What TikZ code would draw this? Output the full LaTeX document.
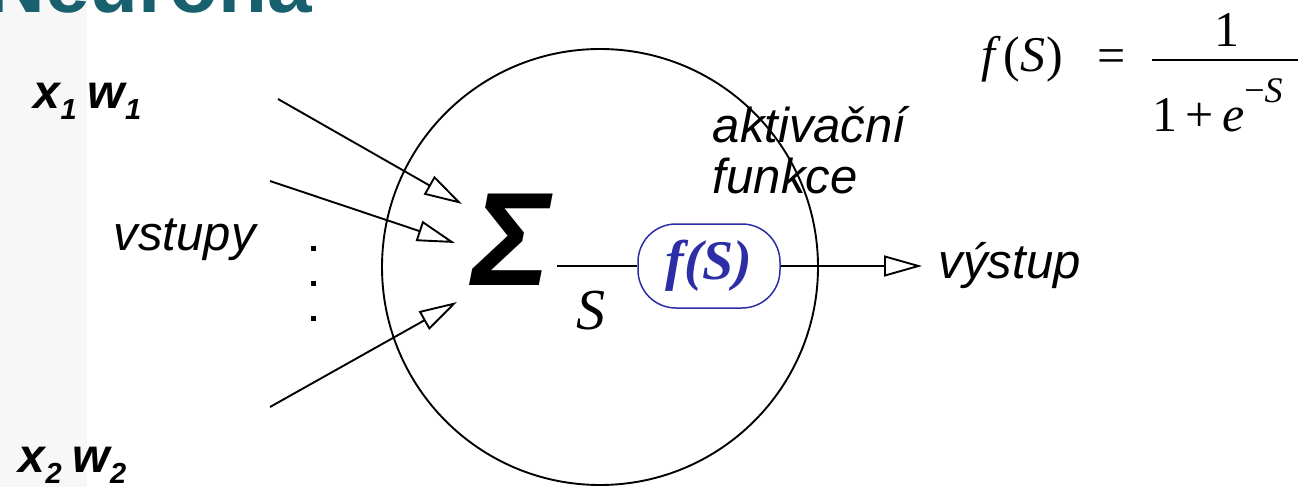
\documentclass[tikz,border=0pt]{standalone}
\usepackage{fontspec}
\usetikzlibrary{arrows.meta}
\newfontfamily\arial{Liberation Sans}
\newfontfamily\tms{Liberation Serif}
\definecolor{teal1}{RGB}{24,96,110}
\definecolor{fblue}{RGB}{45,45,165}
\begin{document}
\begin{tikzpicture}[x=1pt,y=-1pt, line width=1.9pt,
  lbl/.style={font=\arial\itshape\fontsize{49}{49}\selectfont, inner sep=0, anchor=base west},
  inlbl/.style={font=\arial\bfseries\itshape\fontsize{48}{48}\selectfont, inner sep=0, anchor=base west},
  fml/.style={font=\tms\fontsize{50}{50}\selectfont, inner sep=0},
  conn/.style={-{Triangle[open,length=38pt,width=21pt]}, line width=1.9pt},
  dotm/.style={fill, minimum size=5pt, inner sep=0}
]
\clip (0,0) rectangle (1301,487);
\fill[black!3] (0,0) rectangle (87,487);
\node[font=\arial\bfseries\fontsize{80}{80}\selectfont, text=teal1, anchor=base east, inner sep=0] (title) at (313,13) {Neurona};

% neuron body
\node[circle, draw, minimum size=436pt, inner sep=0] (neuron) at (600,267) {};
\node[font=\arial\bfseries\itshape\fontsize{133}{133}\selectfont, inner sep=0] (sigma) at (512,240) {Σ};
\node[draw=fblue, rounded corners=38pt, minimum width=142pt, minimum height=84pt, inner sep=0, line width=1.5pt, text=fblue, font=\tms\bfseries\itshape\fontsize{56}{56}\selectfont] (fs) at (709,266) {f(S)};
\node[font=\tms\itshape\fontsize{58}{58}\selectfont, inner sep=0, anchor=base] (S) at (591,329) {S};
\coordinate (sigout) at (557,266);
\draw (sigout) -- (fs.west);
\coordinate (outtip) at (922,266);
\draw[conn] (fs.east) -- (outtip);
\node[lbl] (vystup) at (938,278) {výstup};

% inputs
\coordinate (in1) at (278,99);  \coordinate (t1) at (462,204);
\coordinate (in2) at (270,181); \coordinate (t2) at (455,243);
\coordinate (in3) at (270,407); \coordinate (t3) at (457,302);
\draw[conn] (in1) -- (t1);
\draw[conn] (in2) -- (t2);
\draw[conn] (in3) -- (t3);
\node[lbl] (vstupy) at (113,250) {vstupy};
\node[dotm] (d1) at (313,248) {};
\node[dotm] (d2) at (313,283) {};
\node[dotm] (d3) at (313,318) {};

\node[inlbl] (x1w1) at (33,108) {x\raisebox{-11pt}{\fontsize{29}{29}\selectfont 1}\hspace{11pt}w\raisebox{-11pt}{\fontsize{29}{29}\selectfont 1}};
\node[inlbl] (x2w2) at (18,472) {x\raisebox{-11pt}{\fontsize{29}{29}\selectfont 2}\hspace{11pt}w\raisebox{-11pt}{\fontsize{29}{29}\selectfont 2}};

\node[lbl] (akt) at (712,142) {aktivační};
\node[lbl] (fun) at (712,193) {funkce};

% formula
\node[fml, anchor=base west] (fS) at (981,71) {\textit{f}\hspace{2pt}(\textit{S}\hspace{1pt})};
\node[fml, anchor=base] (eq) at (1112,73) {=};
\coordinate (fl) at (1152,60); \coordinate (fr) at (1298,60);
\draw[line width=2pt] (fl) -- (fr);
\node[fml, anchor=base] (num) at (1227,47) {1};
\node[fml, anchor=base west] (den) at (1152,131) {1\hspace{8pt}+\hspace{8pt}\textit{e}\raisebox{29pt}{\fontsize{36}{36}\selectfont −\textit{S}}};
\end{tikzpicture}
\end{document}
